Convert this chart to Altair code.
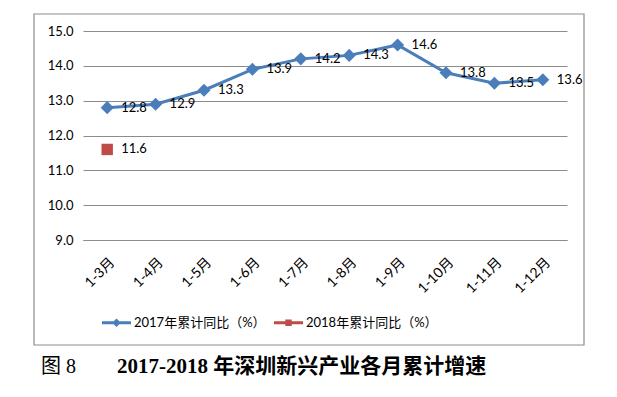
import altair as alt
import pandas as pd

months = ["1-3月", "1-4月", "1-5月", "1-6月", "1-7月", "1-8月", "1-9月", "1-10月", "1-11月", "1-12月"]
v2017 = [12.8, 12.9, 13.3, 13.9, 14.2, 14.3, 14.6, 13.8, 13.5, 13.6]
m2018 = ["1-3月"]
v2018 = [11.6]
series = ["2017年累计同比（%）", "2018年累计同比（%）"]
colors = ["#4a7ebb", "#be4b48"]
y_ticks = [9, 10, 11, 12, 13, 14, 15]
caption_fig = "图 8"
caption_text = "2017-2018 年深圳新兴产业各月累计增速"

rows = [{"month": m, "value": v, "series": series[0]} for m, v in zip(months, v2017)]
rows += [{"month": m, "value": v, "series": series[1]} for m, v in zip(m2018, v2018)]
df = pd.DataFrame(rows)

FONT = "Lato, 'Noto Sans CJK SC', sans-serif"
W, H = 484, 209

cscale = alt.Scale(domain=series, range=colors)

base = alt.Chart(df).encode(
    x=alt.X("month:N", sort=months, title=None,
            axis=alt.Axis(labelAngle=-45, grid=False, ticks=False, domainColor="#8c8c8c",
                          labelFont=FONT, labelFontSize=14, labelColor="black",
                          labelPadding=15, labelOffset=0)),
    y=alt.Y("value:Q", scale=alt.Scale(domain=[9, 15], nice=False, zero=False), title=None,
            axis=alt.Axis(values=y_ticks, format=".1f", grid=True, gridColor="#8c8c8c",
                          domain=False, ticks=False, labelFont=FONT, labelFontSize=13,
                          labelColor="black", labelPadding=10)),
)

line = base.mark_line(strokeWidth=3).encode(
    color=alt.Color("series:N", scale=cscale, legend=None)
)

points = base.mark_point(filled=True, opacity=1).encode(
    color=alt.Color("series:N", scale=cscale, legend=None),
    shape=alt.Shape("series:N", scale=alt.Scale(domain=series, range=["diamond", "square"]), legend=None),
    size=alt.Size("series:N", scale=alt.Scale(domain=series, range=[170, 130]), legend=None),
)

labels = base.mark_text(align="left", baseline="middle", dx=14, font=FONT, fontSize=13,
                        color="black").encode(text=alt.Text("value:Q", format=".1f"))

p_line_diamond = "M-1,-0.1H1V0.1H-1Z M-0.3,0L0,-0.3L0.3,0L0,0.3Z"
p_line_square = "M-1,-0.1H1V0.1H-1Z M-0.22,-0.22H0.22V0.22H-0.22Z"

leg = alt.Legend(orient="none", legendX=19, legendY=277, direction="horizontal", title=None,
                 labelFont=FONT, labelFontSize=13, labelColor="black", labelOffset=3,
                 columnPadding=8, symbolSize=841, symbolStrokeWidth=0)

legend_layer = alt.Chart(df).transform_filter("false").mark_point(filled=True, opacity=1).encode(
    color=alt.Color("series:N", scale=alt.Scale(domain=series, range=colors), legend=leg),
    shape=alt.Shape("series:N", scale=alt.Scale(domain=series, range=[p_line_diamond, p_line_square]),
                    legend=leg),
)

frame_df = pd.DataFrame({"k": [0]})
frame = alt.Chart(frame_df).mark_rect(fill="transparent", stroke="#8c8c8c", strokeWidth=1.2).encode(
    x=alt.value(-49), x2=alt.value(W + 17), y=alt.value(-17), y2=alt.value(H + 105)
)

cap1 = alt.Chart(frame_df).mark_text(align="left", baseline="middle", font="'Liberation Serif', 'Noto Sans CJK SC', serif",
                                     fontSize=20, color="black").encode(
    x=alt.value(-42), y=alt.value(336), text=alt.value(caption_fig))
cap2 = alt.Chart(frame_df).mark_text(align="left", baseline="middle", font="'Liberation Serif', 'Noto Sans CJK SC', serif",
                                     fontSize=21, fontWeight="bold", color="black").encode(
    x=alt.value(34), y=alt.value(336), text=alt.value(caption_text))

chart = alt.layer(frame, line, points, labels, legend_layer, cap1, cap2).resolve_scale(
    color="independent", shape="independent", size="independent"
).properties(
    width=W, height=H, padding={"left": 25, "top": 5, "right": 5, "bottom": 5}
).configure_view(stroke=None)

chart.save("out.html", embed_options={"renderer": "svg", "actions": False})
